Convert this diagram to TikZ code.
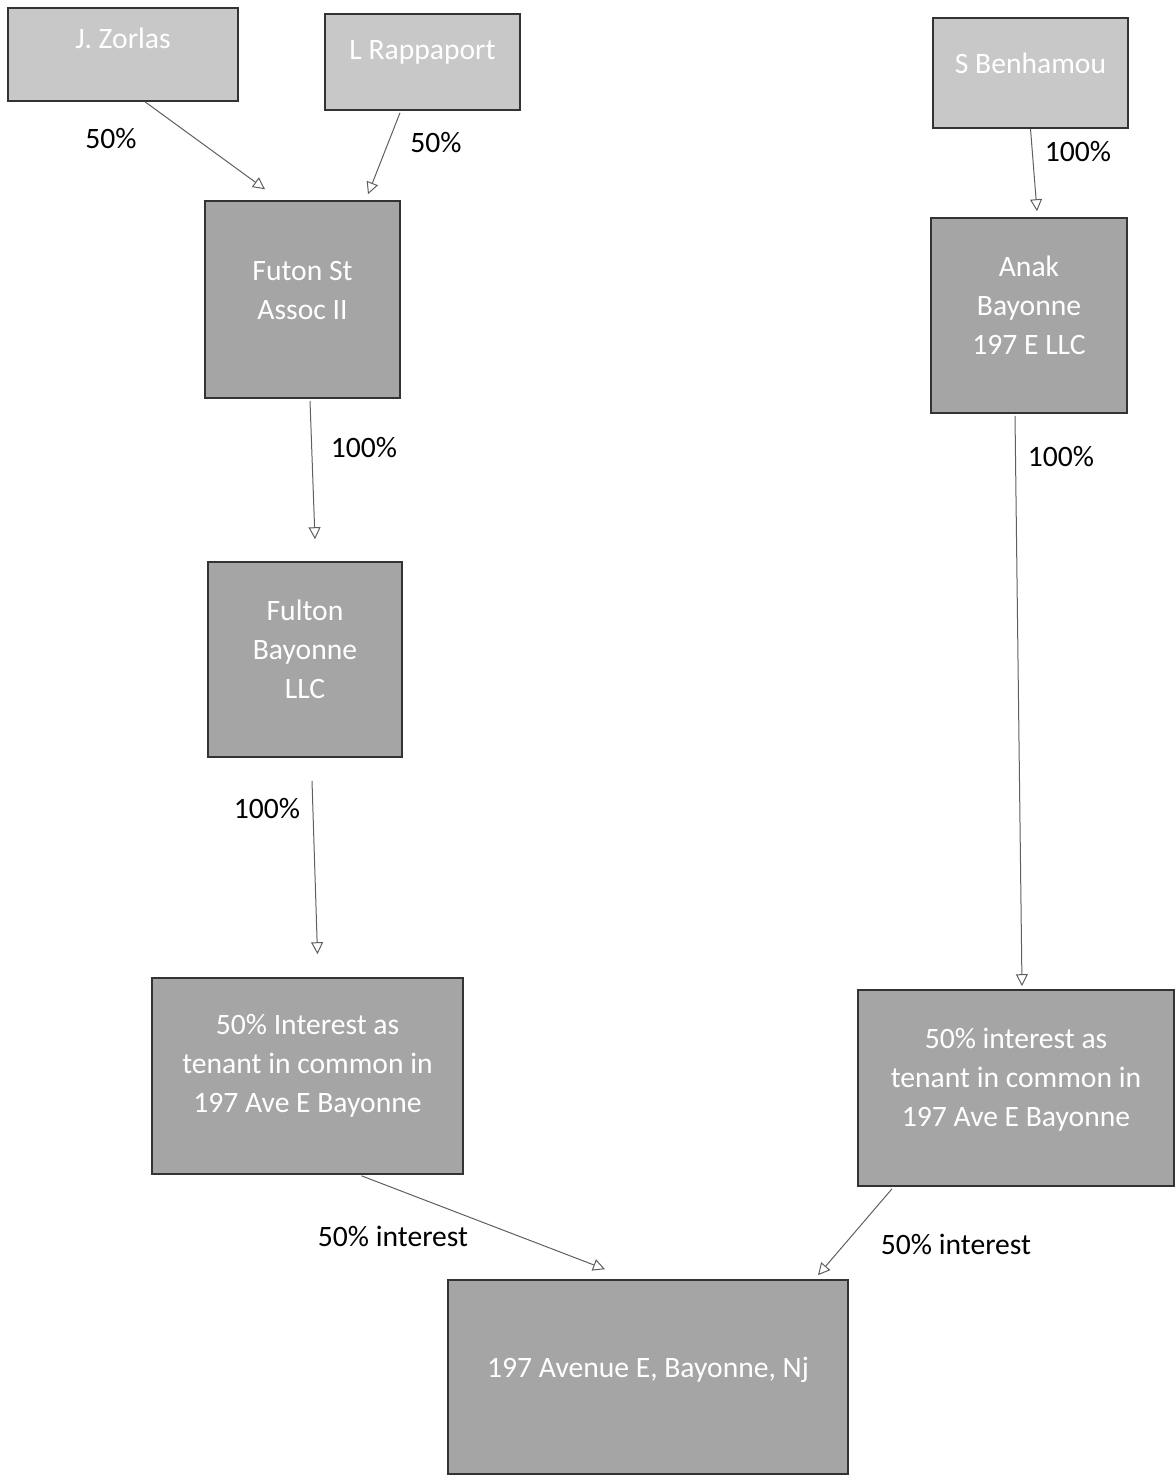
\documentclass[tikz,border=0pt]{standalone}
\usepackage{fontspec}
\setmainfont{Carlito}
\usetikzlibrary{arrows.meta,positioning}
\definecolor{boxlight}{RGB}{200,200,200}
\definecolor{boxdark}{RGB}{165,165,165}
\definecolor{arrowgray}{RGB}{95,95,95}

\begin{document}
\begin{tikzpicture}[
  x=0.5pt,y=-0.5pt,
  >={Triangle[open,length=6pt,width=6pt]},
  owner/.style={draw=black!80,line width=0.8pt,fill=boxlight,text=white,align=center,
    font=\fontsize{14.8}{19.5}\selectfont,inner sep=0pt},
  entity/.style={owner,fill=boxdark},
  share/.style={->,arrowgray,line width=0.5pt},
  pct/.style={font=\fontsize{14.8}{17}\selectfont,text=black}
]
  \useasboundingbox (0,0) rectangle (1174,1478);

  % owners
  \node[owner,minimum width=115pt,minimum height=46.5pt,text depth=16pt] (zorlas) at (123,54.5) {J. Zorlas};
  \node[owner,minimum width=97.5pt,minimum height=48pt,text depth=12pt] (rappaport) at (422.5,62) {L Rappaport};
  \node[owner,minimum width=97.5pt,minimum height=55pt,text depth=10pt] (benhamou) at (1030.5,73) {S Benhamou};

  % companies
  \node[entity,minimum width=97.5pt,minimum height=98.5pt,text depth=9pt] (futon) at (302.5,299.5) {Futon St\\Assoc II};
  \node[entity,minimum width=98pt,minimum height=97.5pt,text depth=10pt] (anak) at (1029,315.5) {Anak\\Bayonne\\197 E LLC};
  \node[entity,minimum width=97pt,minimum height=97.5pt,text depth=10pt] (fulton) at (305,659.5) {Fulton\\Bayonne\\LLC};

  % tenancy shares
  \node[entity,minimum width=155.5pt,minimum height=98pt,text depth=13pt] (leftshare) at (307.5,1076) {50\% Interest as\\tenant in common in\\197 Ave E Bayonne};
  \node[entity,minimum width=158pt,minimum height=98pt,text depth=11pt] (rightshare) at (1016,1088) {50\% interest as\\tenant in common in\\197 Ave E Bayonne};

  % property
  \node[entity,minimum width=200pt,minimum height=97pt,text depth=10pt] (property) at (648,1377) {197 Avenue E, Bayonne, Nj};

  % ownership links
  \draw[share] ([xshift=11pt]zorlas.south) -- ([xshift=-18.75pt,yshift=5.5pt]futon.north);
  \draw[share] ([xshift=-11.25pt,yshift=-1pt]rappaport.south) -- ([xshift=32.75pt,yshift=3pt]futon.north);
  \draw[share] (benhamou.south) -- ([xshift=4pt,yshift=3pt]anak.north);
  \draw[share] ([xshift=3.75pt,yshift=-1pt]futon.south) -- ([xshift=5pt,yshift=11pt]fulton.north);
  \draw[share] ([xshift=-7pt,yshift=-1pt]anak.south) -- ([xshift=3pt,yshift=1.5pt]rightshare.north);
  \draw[share] ([xshift=3.5pt,yshift=-11.5pt]fulton.south) -- ([xshift=5pt,yshift=11.5pt]leftshare.north);
  \draw[share] ([xshift=27pt,yshift=-0.5pt]leftshare.south) -- ([xshift=-21.5pt,yshift=5pt]property.north);
  \draw[share] ([xshift=-62pt,yshift=-1pt]rightshare.south) -- ([xshift=85pt,yshift=2pt]property.north);

  % percentages
  \node[pct] (pzorlas) at (111,139) {50\%};
  \node[pct] (prappaport) at (436,143) {50\%};
  \node[pct] (pbenhamou) at (1078,152) {100\%};
  \node[pct] (pfuton) at (364,448) {100\%};
  \node[pct] (panak) at (1061,457) {100\%};
  \node[pct] (pfulton) at (267,809) {100\%};
  \node[pct] (pleft) at (393,1236) {50\% interest};
  \node[pct] (pright) at (956,1244) {50\% interest};
\end{tikzpicture}
\end{document}
